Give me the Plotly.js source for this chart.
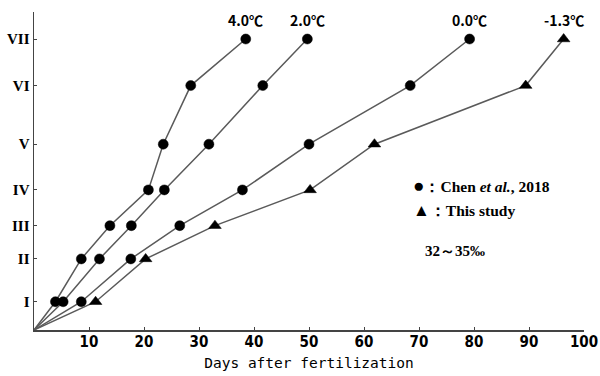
<!DOCTYPE html>
<html>
<head>
<meta charset="utf-8">
<script src="https://cdn.plot.ly/plotly-3.0.1.min.js"></script>
<style>html,body{margin:0;padding:0;background:#fff;}#chart{width:600px;height:376px;}</style>
</head>
<body>
<div id="chart"></div>
<script>
// Stage labels and their (non-uniform) positions on the vertical axis
const stageLabels = ["I", "II", "III", "IV", "V", "VI", "VII"];
const stagePositions = [0.68, 1.71, 2.51, 3.37, 4.47, 5.88, 7.0];

// Stage reached (index 0 = fertilization) for each series
const stages = [0, 1, 2, 3, 4, 5, 6, 7];

// Days after fertilization at each stage
const days40 = [0, 3.9, 8.6, 13.8, 20.8, 23.5, 28.5, 38.5];   // 4.0℃ (Chen et al., 2018)
const days20 = [0, 5.3, 11.9, 17.7, 23.7, 31.8, 41.6, 49.7];  // 2.0℃ (Chen et al., 2018)
const days00 = [0, 8.6, 17.6, 26.5, 37.9, 50.0, 68.4, 79.2];  // 0.0℃ (Chen et al., 2018)
const daysM13 = [0, 11.2, 20.3, 32.9, 50.2, 61.9, 89.4, 96.3]; // -1.3℃ (This study)

const seriesNames = ["4.0℃", "2.0℃", "0.0℃", "-1.3℃"];
const xTicks = [10, 20, 30, 40, 50, 60, 70, 80, 90, 100];

const stageY = s => s === 0 ? 0 : stagePositions[s - 1];
const yVals = stages.map(stageY);

function mk(days, name, symbol, size) {
  return {
    x: days, y: yVals, name: name, type: 'scatter', mode: 'lines+markers',
    line: {color: '#5a5a5a', width: 1.5},
    marker: {symbol: symbol, color: '#000000', opacity: 1, line: {color: '#000', width: 0.5},
             size: days.map((d, i) => i === 0 ? 0 : size)},
    showlegend: false, hoverinfo: 'skip'
  };
}

const traces = [
  mk(days40, seriesNames[0], 'circle', 10),
  mk(days20, seriesNames[1], 'circle', 10),
  mk(days00, seriesNames[2], 'circle', 10),
  mk(daysM13, seriesNames[3], 'triangle-up', 11)
];

const allDays = [days40, days20, days00, daysM13];
const labelFont = {family: 'Noto Sans CJK JP, sans-serif', size: 14, color: '#000', weight: 'bold'};
const annotations = allDays.map((d, i) => ({
  x: d[d.length - 1], y: yVals[yVals.length - 1], xref: 'x', yref: 'y',
  text: seriesNames[i], showarrow: false, yanchor: 'bottom', xanchor: 'center',
  yshift: 7, font: labelFont
}));

const serif = {family: 'Liberation Serif, serif', size: 15.5, color: '#000'};
annotations.push(
  {xref: 'paper', yref: 'paper', x: 0.685, y: 0.455, xanchor: 'left', yanchor: 'middle', showarrow: false,
   text: '<b><span style="font-size:19px">●</span>：Chen <i>et al.</i>, 2018</b>', font: serif},
  {xref: 'paper', yref: 'paper', x: 0.685, y: 0.375, xanchor: 'left', yanchor: 'middle', showarrow: false,
   text: '<b><span style="font-size:17px">▲</span>：This study</b>', font: serif},
  {xref: 'paper', yref: 'paper', x: 0.708, y: 0.25, xanchor: 'left', yanchor: 'middle', showarrow: false,
   text: '<b>32～35‰</b>', font: {family: 'Liberation Serif, serif', size: 15, color: '#000'}}
);

const layout = {
  width: 600, height: 376,
  margin: {l: 34, r: 16, t: 12, b: 46},
  paper_bgcolor: '#fff', plot_bgcolor: '#fff',
  xaxis: {
    range: [0, 100], tickvals: xTicks, ticktext: xTicks.map(String),
    showgrid: false, zeroline: false, showline: true, linecolor: '#444', linewidth: 1.5,
    ticks: 'inside', ticklen: 3, tickcolor: '#444', ticklabelstandoff: -3,
    tickfont: {family: 'DejaVu Sans Condensed, sans-serif', size: 15, color: '#000', weight: 'bold'},
    title: {text: 'Days after fertilization', standoff: 8,
            font: {family: 'DejaVu Sans Mono, monospace', size: 14.5, color: '#000'}}
  },
  yaxis: {
    range: [0, 7.65], tickvals: stagePositions, ticktext: stageLabels.map(s => '<b>' + s + '</b>'),
    showgrid: false, zeroline: false, showline: true, linecolor: '#444', linewidth: 1.5,
    ticks: 'inside', ticklen: 3, tickcolor: '#444',
    tickfont: {family: 'Liberation Serif, serif', size: 15, color: '#000'}
  },
  annotations: annotations
};

Plotly.newPlot('chart', traces, layout, {displayModeBar: false, staticPlot: true});
</script>
</body>
</html>
